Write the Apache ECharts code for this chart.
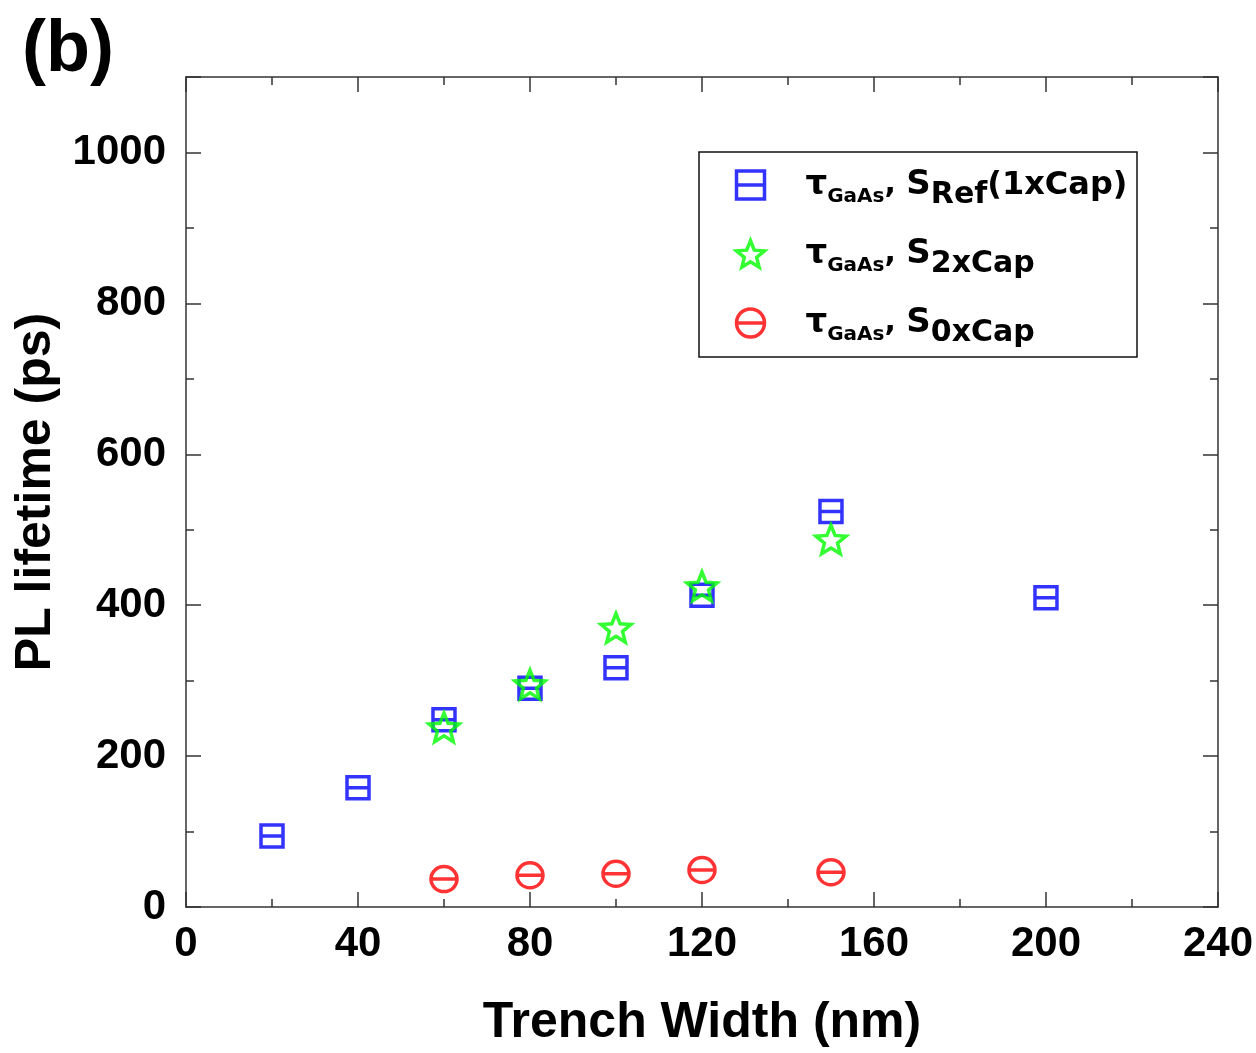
<!DOCTYPE html>
<html>
<head>
<meta charset="utf-8">
<script src="https://cdn.jsdelivr.net/npm/echarts@6/dist/echarts.min.js"></script>
<style>html,body{margin:0;padding:0;background:#fff;}#c{width:1256px;height:1053px;}</style>
</head>
<body>
<div id="c"></div>
<script>
// ---- data ----
const refX = [20, 40, 60, 80, 100, 120, 150, 200];
const refY = [94, 158, 248, 290, 317, 413, 524, 410];
const cap2X = [60, 80, 100, 120, 150];
const cap2Y = [238, 295, 370, 425, 487];
const cap0X = [60, 80, 100, 120, 150];
const cap0Y = [37, 42, 44, 49, 46];
const xTicks = [0, 40, 80, 120, 160, 200, 240];
const yTicks = [0, 200, 400, 600, 800, 1000];
const seriesNames = ['ref', 'cap2', 'cap0'];

const pair = (xs, ys) => xs.map((x, i) => [x, ys[i]]);

const SQ = 'path://M0,0L20,0L20,20L0,20ZM0,10L20,10';
const CI = 'path://M0,10A10,10 0 1,1 20,10A10,10 0 1,1 0,10ZM0,10L20,10';
const ST = 'path://M50,0L62.9,32.2L97.55,34.55L70.9,56.8L79.4,90.45L50,72L20.6,90.45L29.1,56.8L2.45,34.55L37.1,32.2Z';

const chart = echarts.init(document.getElementById('c'), null, {renderer: 'canvas'});
const tickFont = {fontFamily: 'Liberation Sans', fontWeight: 'bold', fontSize: 42, color: '#000'};
const lineC = '#333';

function xAxisDef(pos, labels) {
  return {
    type: 'value', position: pos, min: 0, max: 240, interval: 40,
    axisLine: {show: true, onZero: false, lineStyle: {color: lineC, width: 1.5}},
    axisTick: {show: true, inside: true, length: 15, lineStyle: {color: lineC, width: 1.5}},
    minorTick: {show: true, splitNumber: 2, length: 8, lineStyle: {color: lineC, width: 1.5}},
    splitLine: {show: false}, minorSplitLine: {show: false},
    axisLabel: labels ? Object.assign({margin: 16, formatter: v => xTicks.includes(v) ? String(v) : ''}, tickFont) : {show: false},
    name: labels ? 'Trench Width (nm)' : '', nameLocation: 'middle', nameGap: 91,
    nameTextStyle: {fontFamily: 'Liberation Sans', fontWeight: 'bold', fontSize: 50, color: '#000'}
  };
}
function yAxisDef(pos, labels, minor) {
  return {
    type: 'value', position: pos, min: 0, max: 1100, interval: minor ? 100 : 200,
    axisLine: {show: !minor, onZero: false, lineStyle: {color: lineC, width: 1.5}},
    axisTick: {show: true, inside: true, length: minor ? 8 : 15, lineStyle: {color: lineC, width: 1.5}},
    splitLine: {show: false},
    axisLabel: labels ? Object.assign({margin: 20, formatter: v => yTicks.includes(v) ? String(v) : ''}, tickFont) : {show: false},
    name: labels ? 'PL lifetime (ps)' : '', nameLocation: 'middle', nameGap: 124, nameRotate: 90,
    nameTextStyle: {fontFamily: 'Liberation Sans', fontWeight: 'bold', fontSize: 50, color: '#000'}
  };
}

const LF = 'DejaVu Sans';
const rich = {
  t: {fontFamily: LF, fontWeight: 'bold', fontSize: 34, lineHeight: 36, padding: [7, 0, 7, 36], color: '#000'},
  m: {fontFamily: LF, fontWeight: 'bold', fontSize: 30, lineHeight: 36, padding: [7, 0, 7, 0], color: '#000'},
  S: {fontFamily: LF, fontWeight: 'bold', fontSize: 34, lineHeight: 36, padding: [7, 0, 7, 0], color: '#000'},
  g: {fontFamily: LF, fontWeight: 'bold', fontSize: 20, lineHeight: 22, padding: [26, 0, 2, 0], color: '#000'},
  s: {fontFamily: LF, fontWeight: 'bold', fontSize: 30, lineHeight: 28, padding: [21, 0, 1, 0], color: '#000'},
  p: {fontFamily: LF, fontWeight: 'bold', fontSize: 32, lineHeight: 36, padding: [8, 0, 6, 0], color: '#000'}
};
const legendText = {
  ref: '{t|τ}{g|GaAs}{m|, }{S|S}{s|Ref}{p|(1xCap)}',
  cap2: '{t|τ}{g|GaAs}{m|, }{S|S}{s|2xCap}',
  cap0: '{t|τ}{g|GaAs}{m|, }{S|S}{s|0xCap}'
};

chart.setOption({
  animation: false,
  backgroundColor: '#fff',
  grid: {left: 186, right: 38, top: 77, bottom: 145, containLabel: false},
  xAxis: [xAxisDef('bottom', true), xAxisDef('top', false)],
  yAxis: [yAxisDef('left', true, false), yAxisDef('left', false, true), yAxisDef('right', false, false), yAxisDef('right', false, true)],
  legend: {
    orient: 'vertical', left: 734, top: 159, padding: 0, itemGap: 17,
    itemWidth: 28, itemHeight: 28, symbolKeepAspect: true,
    itemStyle: {borderWidth: 3.5},
    data: seriesNames,
    formatter: n => legendText[n],
    textStyle: {rich: rich, padding: 0}
  },
  graphic: [
    {type: 'rect', shape: {x: 699, y: 152, width: 438, height: 205}, style: {fill: 'none', stroke: '#111', lineWidth: 1.5}, z: 10},
    {type: 'text', left: 22, top: 15, style: {text: '(b)', font: 'bold 72px "Liberation Sans"', fill: '#000'}}
  ],
  series: [
    {name: 'ref', type: 'scatter', xAxisIndex: 0, yAxisIndex: 0, data: pair(refX, refY),
     symbol: SQ, symbolSize: 22, itemStyle: {color: 'none', borderColor: '#0000ff', borderWidth: 3.5}},
    {name: 'cap2', type: 'scatter', xAxisIndex: 0, yAxisIndex: 0, data: pair(cap2X, cap2Y),
     symbol: ST, symbolSize: 30, symbolKeepAspect: true, itemStyle: {color: 'none', borderColor: '#00ff00', borderWidth: 3.5}},
    {name: 'cap0', type: 'scatter', xAxisIndex: 0, yAxisIndex: 0, data: pair(cap0X, cap0Y),
     symbol: CI, symbolSize: [26, 25], itemStyle: {color: 'none', borderColor: '#ff0000', borderWidth: 3.5}}
  ]
});
</script>
</body>
</html>
